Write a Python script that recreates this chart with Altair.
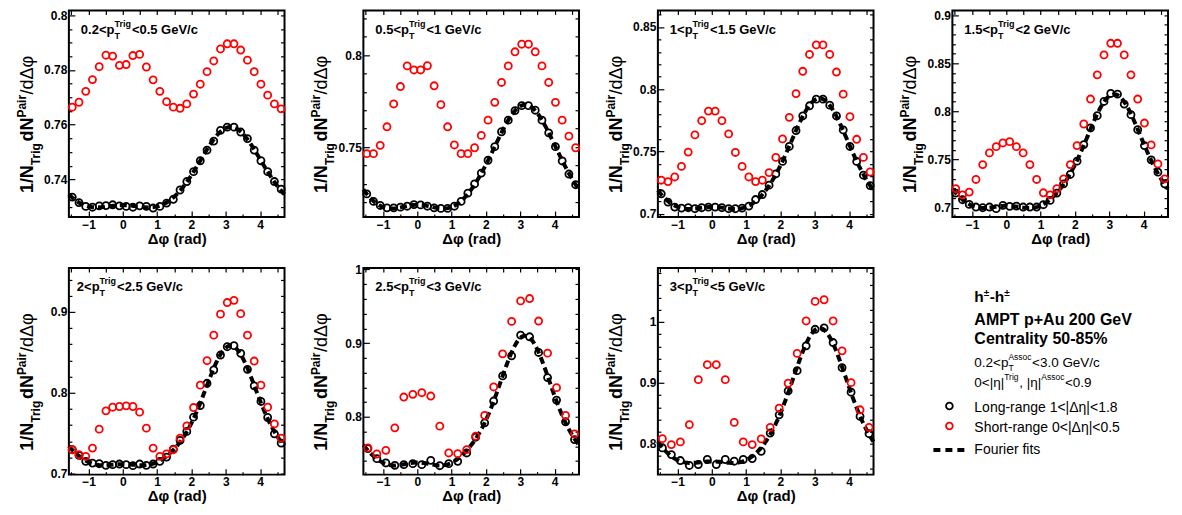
import numpy as np
import pandas as pd
import altair as alt

FONT = "Liberation Sans"

# Δφ bin centres: 32 bins (first five pT bins) and 24 bins (last two) over [-π/2, 3π/2]
phi32 = [-1.4726, -1.2763, -1.0799, -0.8836, -0.6872, -0.4909, -0.2945, -0.0982,
         0.0982, 0.2945, 0.4909, 0.6872, 0.8836, 1.0799, 1.2763, 1.4726,
         1.6690, 1.8653, 2.0617, 2.2580, 2.4544, 2.6507, 2.8471, 3.0434,
         3.2398, 3.4361, 3.6325, 3.8288, 4.0252, 4.2215, 4.4179, 4.6142]
phi24 = [-1.4399, -1.1781, -0.9163, -0.6545, -0.3927, -0.1309, 0.1309, 0.3927,
         0.6545, 0.9163, 1.1781, 1.4399, 1.7017, 1.9635, 2.2253, 2.4871,
         2.7489, 3.0107, 3.2725, 3.5343, 3.7961, 4.0579, 4.3197, 4.5815]

# Per-trigger pair yields: long-range (1<|Δη|<1.8) and short-range (0<|Δη|<0.5)
long_02_05 = [0.7335, 0.7315, 0.7301, 0.7298, 0.7303, 0.7304, 0.7307, 0.7303, 0.7301, 0.7298, 0.7303,
              0.7301, 0.7295, 0.7301, 0.7313, 0.7327, 0.7361, 0.7392, 0.7428, 0.7468, 0.7507, 0.7540,
              0.7579, 0.7591, 0.7591, 0.7573, 0.7549, 0.7507, 0.7468, 0.7428, 0.7392, 0.7364]
short_02_05 = [0.7664, 0.7682, 0.7722, 0.7765, 0.7812, 0.7854, 0.7851, 0.7817, 0.7820, 0.7853, 0.7857,
               0.7811, 0.7764, 0.7722, 0.7684, 0.7664, 0.7660, 0.7676, 0.7712, 0.7748, 0.7794, 0.7833,
               0.7877, 0.7896, 0.7896, 0.7873, 0.7836, 0.7794, 0.7748, 0.7708, 0.7676, 0.7658]

long_05_1 = [0.7245, 0.7204, 0.7182, 0.7169, 0.7169, 0.7173, 0.7178, 0.7187, 0.7185, 0.7178, 0.7169,
             0.7166, 0.7166, 0.7178, 0.7204, 0.7249, 0.7299, 0.7358, 0.7428, 0.7502, 0.7583, 0.7646,
             0.7698, 0.7725, 0.7725, 0.7700, 0.7646, 0.7577, 0.7502, 0.7424, 0.7353, 0.7295]
short_05_1 = [0.7464, 0.7464, 0.7509, 0.7610, 0.7734, 0.7829, 0.7941, 0.7919, 0.7919, 0.7942, 0.7833,
              0.7730, 0.7610, 0.7511, 0.7464, 0.7464, 0.7496, 0.7563, 0.7646, 0.7743, 0.7851, 0.7941,
              0.8018, 0.8059, 0.8059, 0.8018, 0.7941, 0.7851, 0.7743, 0.7646, 0.7559, 0.7496]

long_1_15 = [0.7160, 0.7093, 0.7053, 0.7045, 0.7048, 0.7040, 0.7048, 0.7053, 0.7053, 0.7048, 0.7040,
             0.7040, 0.7045, 0.7061, 0.7114, 0.7154, 0.7229, 0.7319, 0.7420, 0.7540, 0.7668, 0.7785,
             0.7867, 0.7920, 0.7920, 0.7872, 0.7785, 0.7673, 0.7540, 0.7420, 0.7309, 0.7226]
short_1_15 = [0.7269, 0.7258, 0.7295, 0.7380, 0.7495, 0.7633, 0.7747, 0.7824, 0.7824, 0.7747, 0.7641,
              0.7492, 0.7380, 0.7295, 0.7258, 0.7269, 0.7330, 0.7452, 0.7601, 0.7774, 0.7965, 0.8144,
              0.8279, 0.8356, 0.8356, 0.8279, 0.8138, 0.7960, 0.7779, 0.7598, 0.7452, 0.7335]

long_15_2 = [0.7152, 0.7083, 0.7034, 0.7007, 0.7000, 0.7007, 0.6990, 0.7024, 0.7014, 0.7017, 0.7007,
             0.7007, 0.7007, 0.7031, 0.7076, 0.7152, 0.7248, 0.7345, 0.7483, 0.7655, 0.7828, 0.7955,
             0.8103, 0.8186, 0.8179, 0.8076, 0.7966, 0.7810, 0.7645, 0.7497, 0.7369, 0.7248]
short_15_2 = [0.7197, 0.7134, 0.7162, 0.7293, 0.7448, 0.7569, 0.7634, 0.7672, 0.7686, 0.7634, 0.7569,
              0.7448, 0.7293, 0.7155, 0.7134, 0.7197, 0.7300, 0.7448, 0.7645, 0.7869, 0.8128, 0.8379,
              0.8586, 0.8707, 0.8707, 0.8586, 0.8379, 0.8128, 0.7879, 0.7652, 0.7455, 0.7300]

long_2_25 = [0.7296, 0.7226, 0.7152, 0.7131, 0.7123, 0.7103, 0.7111, 0.7119, 0.7111, 0.7099, 0.7119,
             0.7103, 0.7119, 0.7152, 0.7205, 0.7304, 0.7411, 0.7522, 0.7698, 0.7842, 0.8117, 0.8281,
             0.8466, 0.8569, 0.8582, 0.8487, 0.8289, 0.8085, 0.7892, 0.7694, 0.7493, 0.7378]
short_2_25 = [0.7296, 0.7234, 0.7214, 0.7316, 0.7550, 0.7776, 0.7821, 0.7830, 0.7838, 0.7830, 0.7760,
              0.7562, 0.7316, 0.7214, 0.7243, 0.7296, 0.7439, 0.7591, 0.7817, 0.8094, 0.8396, 0.8712,
              0.8971, 0.9115, 0.9142, 0.8977, 0.8712, 0.8392, 0.8094, 0.7821, 0.7614, 0.7439]

long_25_3 = [0.7568, 0.7432, 0.7373, 0.7341, 0.7350, 0.7364, 0.7350, 0.7409, 0.7336, 0.7364, 0.7395,
             0.7509, 0.7723, 0.7918, 0.8214, 0.8555, 0.8827, 0.9109, 0.9086, 0.8873, 0.8532, 0.8227,
             0.7932, 0.7691]
short_25_3 = [0.7577, 0.7495, 0.7545, 0.7850, 0.8268, 0.8305, 0.8327, 0.8282, 0.7873, 0.7509, 0.7500,
              0.7555, 0.7736, 0.8018, 0.8405, 0.8855, 0.9295, 0.9573, 0.9605, 0.9300, 0.8864, 0.8395,
              0.8018, 0.7768]

long_3_5 = [0.7935, 0.7826, 0.7728, 0.7647, 0.7663, 0.7745, 0.7663, 0.7745, 0.7717, 0.7745, 0.7761,
            0.7880, 0.8179, 0.8478, 0.8870, 0.9201, 0.9609, 0.9880, 0.9902, 0.9663, 0.9250, 0.8848,
            0.8451, 0.8168]
short_3_5 = [0.8087, 0.7989, 0.8033, 0.8315, 0.9054, 0.9299, 0.9299, 0.9054, 0.8353, 0.8033, 0.7989,
             0.8082, 0.8272, 0.8587, 0.8995, 0.9484, 1.0016, 1.0337, 1.0364, 1.0016, 0.9527, 0.9005,
             0.8560, 0.8272]

# Trigger pT bins (GeV/c)
pt_bins = [("0.2", "0.5"), ("0.5", "1"), ("1", "1.5"), ("1.5", "2"),
           ("2", "2.5"), ("2.5", "3"), ("3", "5")]
phi_sets = [phi32, phi32, phi32, phi32, phi32, phi24, phi24]
long_sets = [long_02_05, long_05_1, long_1_15, long_15_2, long_2_25, long_25_3, long_3_5]
short_sets = [short_02_05, short_05_1, short_1_15, short_15_2, short_2_25, short_25_3, short_3_5]

# y ranges and tick values of each panel
y_domains = [(0.7262, 0.8018), (0.7119, 0.8243), (0.6973, 0.8633), (0.6903, 0.9048),
             (0.6988, 0.9542), (0.7215, 1.002), (0.7497, 1.0885)]
y_major = [[0.74, 0.76, 0.78, 0.80], [0.75, 0.80], [0.70, 0.75, 0.80, 0.85],
           [0.70, 0.75, 0.80, 0.85, 0.90], [0.7, 0.8, 0.9], [0.8, 0.9, 1.0], [0.8, 0.9, 1.0]]
y_minor_step = [0.005, 0.01, 0.01, 0.01, 0.02, 0.02, 0.02]
x_major = [-1, 0, 1, 2, 3, 4]
x_minor = [-1.5, -0.5, 0.5, 1.5, 2.5, 3.5, 4.5]

W, H = 216, 207
N_HARM = 5

# Approximate advance widths (1/1000 em) for Liberation Sans
BOLD_W = {' ': 278, '%': 889, '(': 333, ')': 333, '+': 584, ',': 278, '-': 333, '.': 278, '/': 278,
          '<': 584, 'A': 722, 'C': 722, 'G': 778, 'M': 833, 'N': 722, 'P': 667, 'T': 611, 'V': 667,
          'a': 556, 'c': 556, 'd': 611, 'e': 556, 'g': 611, 'h': 611, 'i': 278, 'l': 278, 'n': 611,
          'o': 611, 'p': 611, 'r': 389, 's': 556, 't': 333, 'u': 611, 'y': 556, '±': 584,
          'Δ': 612, 'φ': 700}
REG_W = {' ': 278, ',': 278, '-': 333, '.': 278, '/': 278, '<': 584, '|': 260, 'A': 667, 'F': 611,
         'G': 778, 'L': 556, 'S': 667, 'T': 611, 'V': 667, 'a': 556, 'c': 500, 'e': 556, 'f': 278,
         'g': 556, 'h': 556, 'i': 222, 'n': 556, 'o': 556, 'p': 556, 'r': 333, 's': 500, 't': 278,
         'u': 556, 'Δ': 668, 'η': 556, 'φ': 650}


def text_width(s, size, bold):
    table = BOLD_W if bold else REG_W
    return sum(table.get(ch, 556) for ch in s) / 1000.0 * size


def label(text, x, y, size, bold=True, angle=0, color="black"):
    return alt.Chart(pd.DataFrame({"t": [text]})).mark_text(
        align="left", baseline="alphabetic", font=FONT, fontSize=size,
        fontWeight="bold" if bold else "normal", angle=angle, color=color,
    ).encode(text="t:N", x=alt.value(x), y=alt.value(y))


def rich(segments, x0, y0, angle=0):
    """segments: (text, size, bold, shift, advance) – shift>0 lowers (subscript)."""
    layers, pos = [], 0.0
    for text, size, bold, shift, adv in segments:
        if angle == 0:
            x, y = x0 + pos, y0 + shift
        else:  # rotated to read upward; 'down' of the text points to +x
            x, y = x0 + shift, y0 - pos
        layers.append(label(text, x, y, size, bold, angle))
        if adv:
            pos += text_width(text, size, bold) + (adv if isinstance(adv, float) else 0.0)
    return layers


def minor_ticks(dom, step, major):
    k0, k1 = int(np.ceil(dom[0] / step - 1e-9)), int(np.floor(dom[1] / step + 1e-9))
    vals = [round(k * step, 4) for k in range(k0, k1 + 1)]
    return [v for v in vals if all(abs(v - m) > 1e-6 for m in major)]


def tick_axis(orient, values, size, labels=False, title=None):
    kw = dict(orient=orient, values=values, tickSize=size, offset=-size, domain=False, grid=False,
              tickColor="black", tickWidth=1.2, labels=labels, title=title)
    if labels:
        kw.update(labelFont=FONT, labelFontSize=12, labelFontWeight="bold", labelColor="black",
                  labelPadding=2, labelFlush=False, labelOverlap=False, format="~g")
    if title:
        kw.update(titleFont=FONT, titleFontSize=15, titleFontWeight="bold", titleColor="black",
                  titlePadding=1)
    return alt.Axis(**kw)


def panel(i):
    phi = np.array(phi_sets[i])
    long_y = np.array(long_sets[i])
    df = pd.DataFrame({"phi": phi, "long": long_y, "short": short_sets[i]})

    # Fourier fit a0 + sum a_n cos(n Δφ) to the long-range points
    basis = np.column_stack([np.cos(n * phi) for n in range(N_HARM)])
    coef, *_ = np.linalg.lstsq(basis, long_y, rcond=None)
    grid = np.linspace(-np.pi / 2, 3 * np.pi / 2, 181)
    fit = np.column_stack([np.cos(n * grid) for n in range(N_HARM)]) @ coef
    fdf = pd.DataFrame({"phi": grid, "fit": fit})

    xs = alt.Scale(domain=[-np.pi / 2, 3 * np.pi / 2], nice=False, zero=False)
    ys = alt.Scale(domain=list(y_domains[i]), nice=False, zero=False)
    ymin = minor_ticks(y_domains[i], y_minor_step[i], y_major[i])

    black = alt.Chart(df).mark_point(
        shape="circle", filled=False, size=50, strokeWidth=1.8, color="black", opacity=1
    ).encode(
        x=alt.X("phi:Q", scale=xs, axis=tick_axis("bottom", x_major, 6, labels=True, title="Δφ (rad)")),
        y=alt.Y("long:Q", scale=ys, axis=tick_axis("left", y_major[i], 6, labels=True)),
    )
    fitline = alt.Chart(fdf).mark_line(
        color="black", strokeWidth=4, strokeDash=[7, 4]
    ).encode(
        x=alt.X("phi:Q", scale=xs, axis=tick_axis("bottom", x_minor, 3)),
        y=alt.Y("fit:Q", scale=ys, axis=tick_axis("left", ymin, 3)),
    )
    red = alt.Chart(df).mark_point(
        shape="circle", filled=False, size=50, strokeWidth=1.8, color="#ff0000", opacity=1
    ).encode(
        x=alt.X("phi:Q", scale=xs, axis=tick_axis("top", x_major + x_minor, 4)),
        y=alt.Y("short:Q", scale=ys, axis=tick_axis("right", y_major[i] + ymin, 4)),
    )

    lo, hi = pt_bins[i]
    hx = 8 if i == 4 else 12
    header = rich([
        (f"{lo}<p", 13, True, 0, True),
        ("T", 9, True, 5, False),
        ("Trig", 9, True, -7, 0.5),
        (f"<{hi} GeV/c", 13, True, 0, True),
    ], hx, 23.3)

    ytitle = rich([
        ("1/N", 18, True, 0, True),
        ("Trig", 12, True, 7, 1.0),
        ("dN", 18, True, 0, True),
        ("Pair", 12, True, -7, 0.5),
        ("/dΔφ", 18, False, 0, True),
    ], -36, 183, angle=270)

    return alt.layer(black, fitline, red, *header, *ytitle).resolve_axis(
        x="independent", y="independent"
    ).properties(width=W, height=H)


def legend_cell():
    tx = 22
    layers = []
    layers += rich([("h", 15.5, True, 0, True), ("±", 10, True, -6, True),
                    ("-h", 15.5, True, 0, True), ("±", 10, True, -6, True)], tx, 34)
    layers.append(label("AMPT p+Au 200 GeV", tx, 57.3, 16, True))
    layers.append(label("Centrality 50-85%", tx, 76.3, 16, True))
    layers += rich([("0.2<p", 13.5, False, 0, True), ("T", 8.5, False, 4, False),
                    ("Assoc", 8.5, False, -7, 0.5), ("<3.0 GeV/c", 13.5, False, 0, True)], tx, 99)
    layers += rich([("0<|η|", 13.5, False, 0, True), ("Trig", 8.5, False, -7, 0.5),
                    (", |η|", 13.5, False, 0, True), ("Assoc", 8.5, False, -7, 0.5),
                    ("<0.9", 13.5, False, 0, True)], tx, 119.3)
    layers.append(label("Long-range 1<|Δη|<1.8", tx, 144, 14, False))
    layers.append(label("Short-range 0<|Δη|<0.5", tx, 164, 14, False))
    layers.append(label("Fourier fits", tx, 186.3, 14, False))

    key = pd.DataFrame({"k": [0]})
    layers.append(alt.Chart(key).mark_point(shape="circle", filled=False, size=45, strokeWidth=1.8,
                                            color="black", opacity=1)
                  .encode(x=alt.value(-3), y=alt.value(138.3)))
    layers.append(alt.Chart(key).mark_point(shape="circle", filled=False, size=45, strokeWidth=1.8,
                                            color="#ff0000", opacity=1)
                  .encode(x=alt.value(-3), y=alt.value(158.3)))
    layers.append(alt.Chart(key).mark_rule(color="black", strokeWidth=4, strokeDash=[7, 5])
                  .encode(x=alt.value(-19), x2=alt.value(12), y=alt.value(182.3)))
    return alt.layer(*layers).properties(width=W, height=H,
                                         view=alt.ViewBackground(stroke="transparent"))


cells = [panel(i) for i in range(7)] + [legend_cell()]

chart = alt.concat(
    *cells, columns=4, spacing={"row": 51, "column": 79}, bounds="flush"
).properties(
    padding={"left": 14, "top": 7, "right": 5, "bottom": 2},
    background="white",
).configure_view(stroke="black", strokeWidth=2)

chart.save("out.html", embed_options={"renderer": "svg", "actions": False})
